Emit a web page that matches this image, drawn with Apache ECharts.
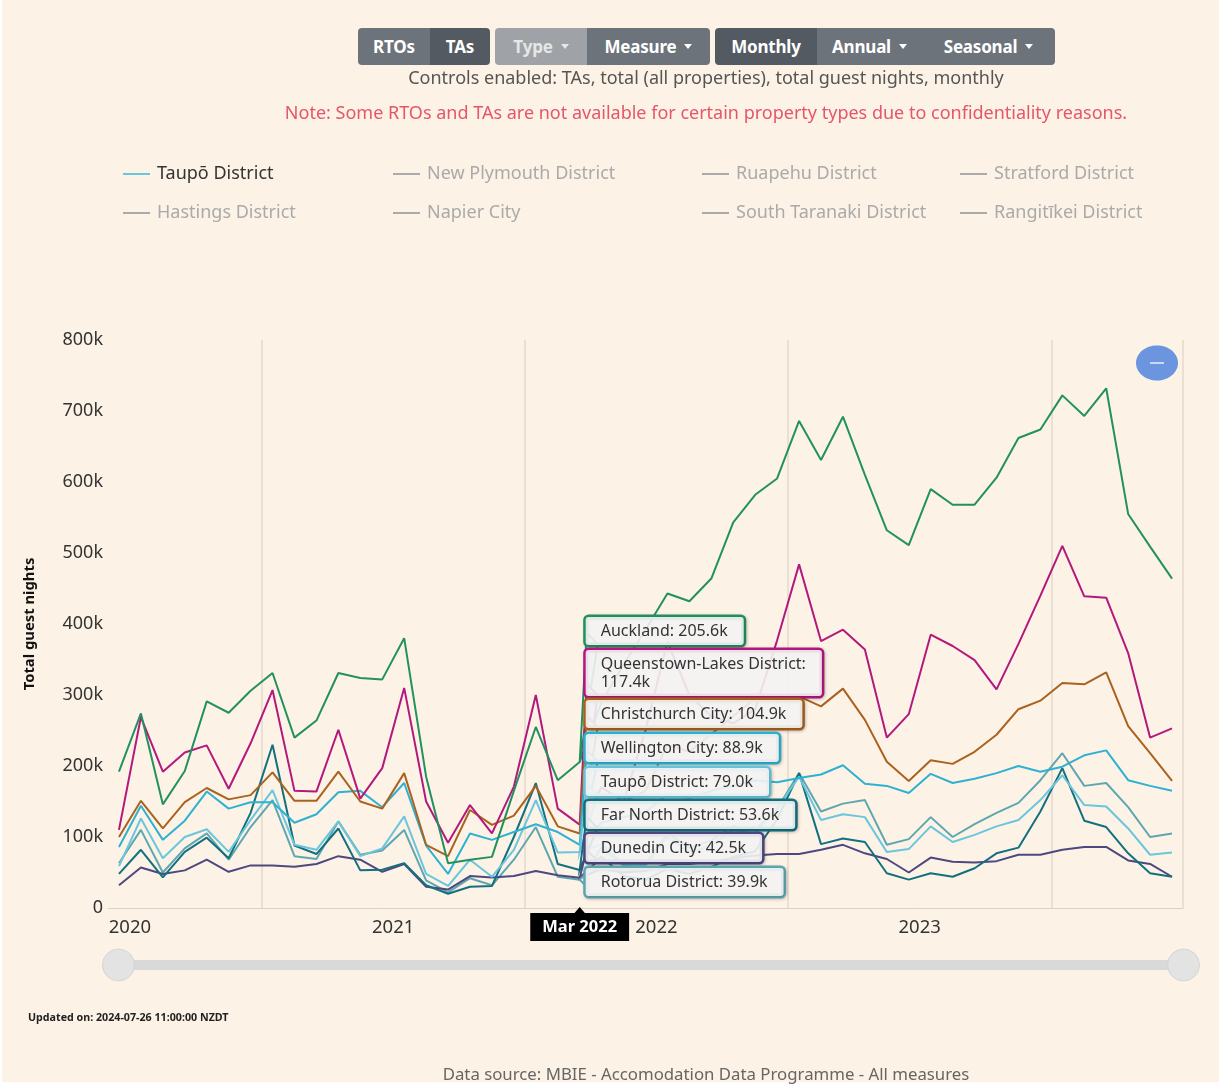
<!DOCTYPE html>
<html>
<head>
<meta charset="utf-8">
<script src="https://cdn.jsdelivr.net/npm/echarts@6/dist/echarts.min.js"></script>
<style>
  html, body { margin:0; padding:0; width:1223px; height:1085px; overflow:hidden; background:#ffffff;
    font-family:'Noto Sans','Open Sans',sans-serif; }
  #frame { position:absolute; left:2px; top:0; width:1217px; height:1082px; background:#fdf2e6; }
  #chart { position:absolute; left:0; top:0; width:1223px; height:1085px; }
  .grp { position:absolute; top:28px; height:37px; display:flex; border-radius:4px; overflow:hidden; }
  .b { height:37px; display:flex; align-items:center; justify-content:center; color:#fff;
       font-weight:bold; font-size:17px; letter-spacing:-0.2px; }
  .car { display:inline-block; margin-left:8px; width:0; height:0; border-left:4px solid transparent;
         border-right:4px solid transparent; border-top:5px solid #fff; }
  .txt { position:absolute; left:206px; width:1000px; text-align:center; white-space:nowrap; }
</style>
</head>
<body>
<div id="frame"></div>
<div id="chart"></div>

<div class="grp" style="left:358px;width:132px;">
  <div class="b" style="width:72px;background:#6c737b;">RTOs</div>
  <div class="b" style="width:60px;background:#535a62;">TAs</div>
</div>
<div class="grp" style="left:495px;width:215px;">
  <div class="b" style="width:92px;background:#9fa3a7;color:#e6e6e6;">Type<span class="car" style="border-top-color:#e6e6e6"></span></div>
  <div class="b" style="width:123px;background:#6c737b;">Measure<span class="car"></span></div>
</div>
<div class="grp" style="left:715px;width:340px;">
  <div class="b" style="width:102px;background:#535a62;">Monthly</div>
  <div class="b" style="width:105px;background:#6c737b;">Annual<span class="car"></span></div>
  <div class="b" style="width:133px;background:#6c737b;">Seasonal<span class="car"></span></div>
</div>
<div class="txt" style="top:65px;font-size:18px;color:#555;">Controls enabled: TAs, total (all properties), total guest nights, monthly</div>
<div class="txt" style="top:100px;font-size:18px;color:#e4566b;">Note: Some RTOs and TAs are not available for certain property types due to confidentiality reasons.</div>
<div style="position:absolute;left:28px;top:1010px;font-size:10.7px;font-weight:bold;color:#222;white-space:nowrap;">Updated on: 2024-07-26 11:00:00 NZDT</div>
<div class="txt" style="top:1062px;font-size:16.8px;color:#666;">Data source: MBIE - Accomodation Data Programme - All measures</div>

<script>
// ---------------- data (thousands of guest nights) ----------------
const months = [
  'Jun 2020','Jul 2020','Aug 2020','Sep 2020','Oct 2020','Nov 2020','Dec 2020',
  'Jan 2021','Feb 2021','Mar 2021','Apr 2021','May 2021','Jun 2021','Jul 2021','Aug 2021','Sep 2021','Oct 2021','Nov 2021','Dec 2021',
  'Jan 2022','Feb 2022','Mar 2022','Apr 2022','May 2022','Jun 2022','Jul 2022','Aug 2022','Sep 2022','Oct 2022','Nov 2022','Dec 2022',
  'Jan 2023','Feb 2023','Mar 2023','Apr 2023','May 2023','Jun 2023','Jul 2023','Aug 2023','Sep 2023','Oct 2023','Nov 2023','Dec 2023',
  'Jan 2024','Feb 2024','Mar 2024','Apr 2024','May 2024','Jun 2024'
];
const auckland = [192,274,146,193,291,275,306,331,240,264,331,324,322,380,185,63,68,72,165,255,180,205.6,290,343,392,443,432,464,543,582,605,686,631,692,610,532,511,590,568,568,606,662,674,722,693,732,555,509,464];
const queenstownLakes = [110,269,192,219,229,168,232,307,165,164,251,154,197,310,150,92,145,105,171,300,140,117.4,170,150,250,375,300,270,260,280,377,484,376,392,364,240,273,385,369,349,308,372,440,510,439,437,359,240,253];
const christchurch = [100,151,112,149,169,153,159,191,151,151,192,150,140,190,89,73,138,117,130,172,115,104.9,170,150,165,230,220,245,270,295,290,298,284,309,265,206,179,208,203,220,244,280,292,317,315,332,256,218,179];
const wellington = [86,144,96,123,164,140,149,149,120,132,163,165,142,176,88,48,105,96,107,118,107,88.9,120,128,135,160,155,165,172,180,177,183,188,201,175,172,162,189,176,182,190,200,192,199,215,222,180,172,165];
const taupo = [59,126,70,100,111,79,124,166,89,82,122,73,84,129,48,31,68,44,82,152,78,79.0,90,62,60,100,78,88,110,105,140,185,124,132,128,79,83,115,93,103,115,124,152,187,145,143,112,75,78];
const farNorth = [48,82,43,79,99,70,134,230,88,76,112,53,54,63,32,20,30,31,100,176,62,53.6,72,45,40,55,48,58,72,80,125,190,90,98,93,49,40,49,44,56,77,85,136,197,123,114,77,49,44];
const dunedin = [32,57,48,53,68,51,60,60,58,62,73,68,51,62,30,26,45,43,45,52,46,42.5,55,50,52,62,62,66,70,74,76,76,82,89,77,69,50,71,65,64,66,75,75,82,86,86,67,62,44];
const rotorua = [63,110,50,84,105,68,114,152,73,69,122,75,81,110,39,22,42,32,68,114,44,39.9,85,60,62,105,85,95,115,110,140,190,136,147,152,89,97,128,100,118,134,148,180,218,172,176,142,100,105];

const seriesNames = ['Auckland','Queenstown-Lakes District','Christchurch City','Wellington City','Taupō District','Far North District','Dunedin City','Rotorua District'];
const seriesValues = [auckland, queenstownLakes, christchurch, wellington, taupo, farNorth, dunedin, rotorua];
const seriesColors = ['#22915f','#b3197d','#a9621f','#2fb1d1','#69c6dd','#13707f','#4d4880','#5fa7b0'];

const inactiveNames = ['New Plymouth District','Ruapehu District','Stratford District','Hastings District','Napier City','South Taranaki District','Rangitīkei District'];
const legendOrder = ['Taupō District','New Plymouth District','Ruapehu District','Stratford District',
                     'Hastings District','Napier City','South Taranaki District','Rangitīkei District'];
const yTicks = [0,100,200,300,400,500,600,700,800];
const pointerMonth = 'Mar 2022';

// ---------------- layout ----------------
const FONT = "'Noto Sans','Open Sans',sans-serif";
const legendCols = [123, 393, 702, 960];
const legendRows = [165, 204];
const tipTops = [617, 650, 700, 734, 768, 801, 834, 868];

const chart = echarts.init(document.getElementById('chart'), null, {renderer:'canvas'});

const selected = {};
inactiveNames.forEach(n => selected[n] = false);

const series = seriesNames.map((name, k) => ({
  name, type:'line', data: seriesValues[k], showSymbol:false, symbol:'none',
  color: seriesColors[k], lineStyle:{ width:2, color: seriesColors[k] }, z: 10 - k,
  emphasis:{ disabled:true }
})).concat(inactiveNames.map(name => ({ name, type:'line', data:[], showSymbol:false, color:'#aaa' })));

const legends = legendOrder.map((name, k) => ({
  data:[name], left: legendCols[k % 4], top: legendRows[Math.floor(k / 4)],
  icon:'rect', itemWidth:27, itemHeight:2, padding:0,
  textStyle:{ fontSize:18, color:'#333', fontFamily:FONT, padding:[0,0,0,2] },
  inactiveColor:'#aaa', selected
}));

chart.setOption({
  backgroundColor:'transparent',
  animation:false,
  textStyle:{ fontFamily:FONT },
  legend: legends,
  grid:{ left:108, right:40, top:340, bottom:1085-908, containLabel:false },
  xAxis:{
    type:'category', data: months, boundaryGap:true,
    axisLine:{ lineStyle:{ color:'#d7d2cc', width:1 } },
    axisTick:{ show:false },
    axisLabel:{
      interval:(i, v) => v.startsWith('Jul'),
      formatter: v => v.slice(4),
      padding:[0,22,0,0], margin:10, fontSize:18.5, color:'#333', fontFamily:FONT
    },
    splitLine:{ show:true, interval:(i, v) => v.startsWith('Jan'), lineStyle:{ color:'#e9dfd3', width:2 } },
    axisPointer:{
      show:true, status:'show', value: months.indexOf(pointerMonth), triggerTooltip:false,
      type:'line', lineStyle:{ opacity:0 },
      label:{ show:true, backgroundColor:'#000', color:'#fff', fontWeight:'bold', fontSize:16.5,
              fontFamily:FONT, padding:[6,12,5,12], margin:5, borderRadius:0,
              formatter: p => (typeof p.value === 'number' ? months[p.value] : p.value) }
    }
  },
  yAxis:{
    type:'value', min:yTicks[0], max:yTicks[yTicks.length-1], interval:100,
    name:'Total guest nights', nameLocation:'middle', nameGap:71, nameRotate:90,
    nameTextStyle:{ fontSize:14.8, fontWeight:'bold', color:'#111', fontFamily:FONT },
    axisLabel:{ formatter: v => v === 0 ? '0' : v + 'k', fontSize:18, color:'#333', margin:5, fontFamily:FONT },
    splitLine:{ show:false }, axisLine:{ show:false }, axisTick:{ show:false }
  },
  dataZoom:[{
    type:'slider', xAxisIndex:0, start:0, end:100, left:116, right:40, top:960, height:10,
    showDataShadow:false, showDetail:false, brushSelect:false, moveHandleSize:0,
    borderColor:'transparent', backgroundColor:'#d9d9d9', fillerColor:'#d9d9d9',
    handleIcon:'circle', handleSize:32,
    handleStyle:{ color:'#e3e3e3', borderColor:'#d4d4d4', borderWidth:1 },
    emphasis:{ handleStyle:{ color:'#e3e3e3' } }
  }],
  series
});

// --------- static split tooltip (drawn from the data at pointerMonth) ---------
const pi = months.indexOf(pointerMonth);
const order = seriesNames.map((n, k) => k).sort((a, b) => seriesValues[b][pi] - seriesValues[a][pi]);
const graphics = [];
const tails = [];
order.forEach((k, j) => {
  const v = seriesValues[k][pi];
  const [px, py] = chart.convertToPixel({ gridIndex:0 }, [pi, v]);
  const bx = px + 6;
  const top = tipTops[j];
  const name = seriesNames[k];
  const label = name.length > 20 ? `${name}:\n${v.toFixed(1)}k` : `${name}: ${v.toFixed(1)}k`;
  const lines = label.split('\n').length;
  const bottom = top + lines * 18 + 10;
  const col = seriesColors[k];
  if (py > top + 6 && py < bottom - 6) {
    tails.push({ type:'polygon', z:100, shape:{ points:[[bx+1, py-7],[px, py],[bx+1, py+7]] },
      style:{ fill:'rgba(247,247,247,0.95)', stroke:col, lineWidth:2 } });
  } else {
    tails.push({ type:'polygon', z:100, shape:{ points:[[bx+1, bottom-12],[px, py],[bx+12, bottom-1]] },
      style:{ fill:'rgba(247,247,247,0.85)', stroke:col, lineWidth:2 } });
  }
  graphics.push({
    type:'text', x:bx, y:top, z:101,
    style:{ text:label, fill:'#333', font:`16px ${FONT}`, lineHeight:18, align:'left', verticalAlign:'top',
      backgroundColor:'rgba(249,249,249,0.88)', borderColor:col, borderWidth:2.5, borderRadius:3,
      padding:[5,16,5,15], shadowBlur:3, shadowColor:'rgba(0,0,0,0.22)', shadowOffsetX:1, shadowOffsetY:1 }
  });
});
const [ax, axisY] = chart.convertToPixel({ gridIndex:0 }, [pi, 0]);
graphics.push({ type:'polygon', z:120, shape:{ points:[[ax, axisY-1],[ax-6, axisY+6],[ax+6, axisY+6]] }, style:{ fill:'#000' } });
// zoom-reset button
graphics.push({ type:'ellipse', z:50, shape:{ cx:1157, cy:363, rx:21, ry:17.5 }, style:{ fill:'#6b96df' } });
graphics.push({ type:'line', z:51, shape:{ x1:1150, y1:363, x2:1164, y2:363 }, style:{ stroke:'#e8eefa', lineWidth:1.5 } });

chart.setOption({ graphic: tails.concat(graphics) });
</script>
</body>
</html>
